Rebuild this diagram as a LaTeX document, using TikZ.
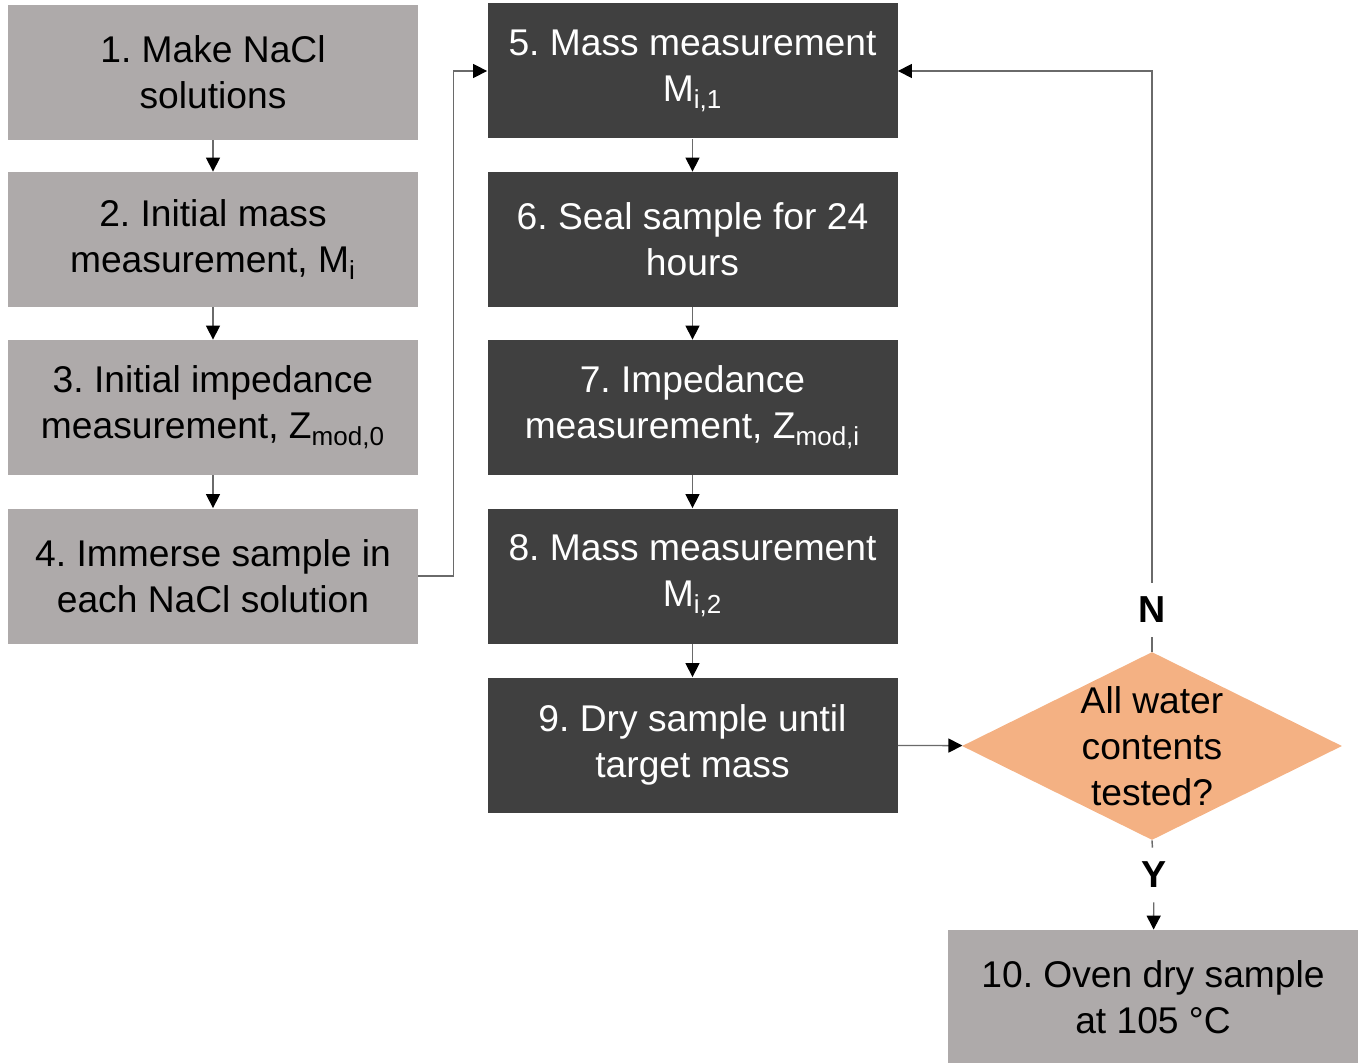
\documentclass[tikz,border=0pt]{standalone}
\usepackage{fontspec}
\setmainfont{Liberation Sans}
\usetikzlibrary{arrows.meta,shapes.geometric}
\frenchspacing
\definecolor{boxgray}{HTML}{AEAAAA}
\definecolor{boxdark}{HTML}{404040}
\definecolor{decfill}{HTML}{F4B183}
\definecolor{linegray}{HTML}{6A6A6A}
\tikzset{
  stepgray/.style={fill=boxgray, text=black, minimum width=205pt, minimum height=67.5pt, inner sep=0pt, align=center},
  stepdark/.style={stepgray, fill=boxdark, text=white},
  decision/.style={diamond, fill=decfill, minimum width=190pt, minimum height=94pt, inner sep=0pt},
  conn/.style={draw=linegray, line width=0.7pt},
  flow/.style={conn, -{Triangle[length=7pt,width=7pt,color=black]}},
  yn/.style={font=\fontsize{18.8}{23}\selectfont\bfseries, fill=white, inner xsep=1pt, inner ysep=7pt}
}
\begin{document}
\begin{tikzpicture}[x=0.5pt,y=-0.5pt,font=\fontsize{18.6}{23}\selectfont]
    \useasboundingbox (0,0) rectangle (1358,1063);
    % left column
    \node[stepgray] (s1) at (213,72.5) {1. Make NaCl\\solutions};
    \node[stepgray] (s2) at (213,239.5) {2. Initial mass\\measurement, M\textsubscript{i}};
    \node[stepgray] (s3) at (213,407.5) {3. Initial impedance\\measurement, Z\textsubscript{mod,0}};
    \node[stepgray] (s4) at (213,576) {4. Immerse sample in\\each NaCl solution};
    % middle column
    \node[stepdark] (s5) at (692.5,71) {5. Mass measurement\\M\textsubscript{i,1}};
    \node[stepdark] (s6) at (692.5,239.5) {6. Seal sample for 24\\hours};
    \node[stepdark] (s7) at (692.5,407.5) {7. Impedance\\measurement, Z\textsubscript{mod,i}};
    \node[stepdark] (s8) at (692.5,576) {8. Mass measurement\\M\textsubscript{i,2}};
    \node[stepdark] (s9) at (692.5,745) {9. Dry sample until\\target mass};
    % decision and end
    \node[decision, label={[align=center, text=black]center:All water\\contents\\tested?}] (dec) at (1152,746) {};
    \node[yn] (nlab) at (1152,610) {N};
    \node[yn] (ylab) at (1154,875) {Y};
    \node[stepgray] (s10) at (1153,997.5) {10. Oven dry sample\\at 105 °C};

    \foreach \a/\b in {s1/s2,s2/s3,s3/s4,s5/s6,s6/s7,s7/s8,s8/s9}
        \draw[flow] (\a) -- (\b);
    \draw[flow] (s4.east) -- ++(35,0) |- (s5.west);
    \draw[flow] (s9) -- (dec);
    \draw[conn] (dec.north) -- (nlab);
    \draw[flow] (nlab) |- (s5.east);
    \draw[conn] (dec.south) -- (ylab);
    \draw[flow] (ylab) -- (s10);
\end{tikzpicture}
\end{document}
